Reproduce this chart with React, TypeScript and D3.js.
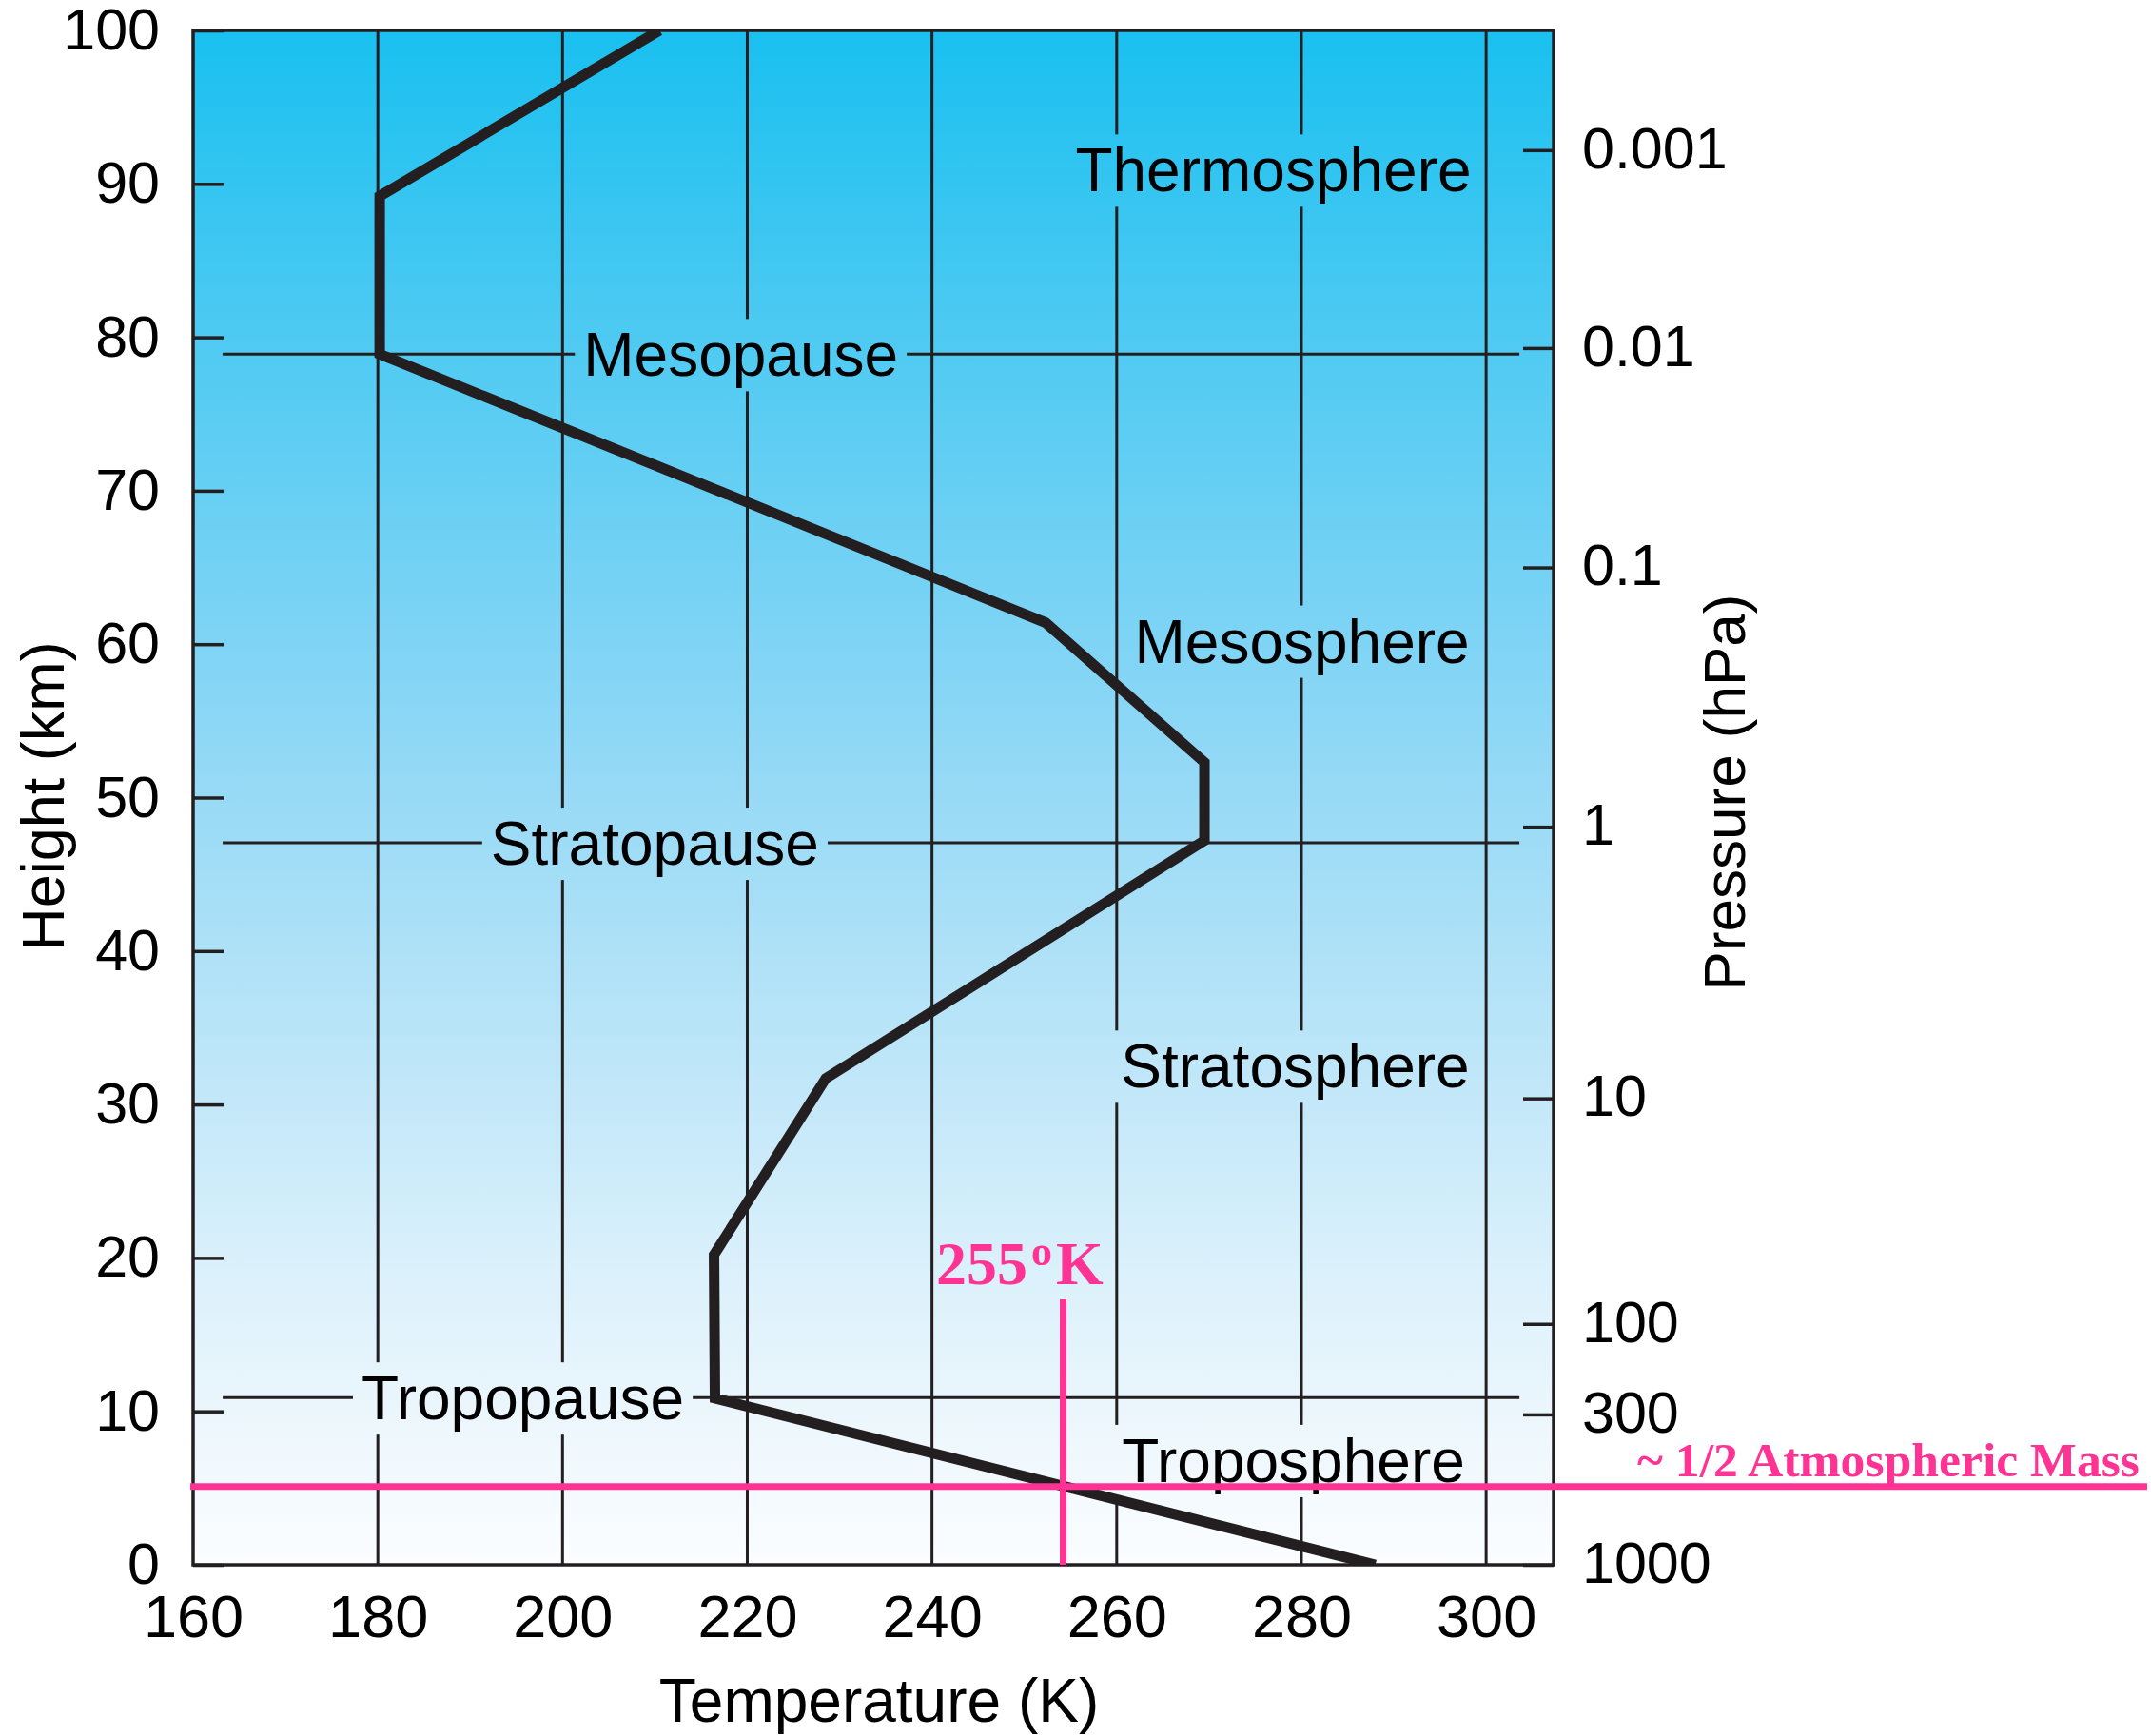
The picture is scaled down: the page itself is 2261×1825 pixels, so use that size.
import * as d3 from 'd3';
import { useEffect, useRef } from 'react';

// temperature profile of the standard atmosphere
const profileHeightsKm = [0, 10.85, 20.2, 31.7, 47.2, 52.3, 61.4, 78.9, 89.2, 100];
const profileTemperaturesK = [288, 216.5, 216.4, 228.5, 269.5, 269.5, 252.3, 180.2, 180.2, 210.5];

const temperatureTicks = [160, 180, 200, 220, 240, 260, 280, 300];
const gridTemperatures = [180, 200, 220, 240, 260, 280, 300];
const heightTicks = [0, 10, 20, 30, 40, 50, 60, 70, 80, 90, 100];

const pressureTicks = [1000, 300, 100, 10, 1, 0.1, 0.01, 0.001];
const pressureHeightsKm = [0, 9.8, 15.7, 30.4, 48.1, 65.0, 79.3, 92.2];

const pauseNames = ['Mesopause', 'Stratopause', 'Tropopause'];
const pauseHeightsKm = [78.9, 47.05, 10.9];
const pauseLabelTemps = [219.3, 210.0, 195.7];

const layerNames = ['Thermosphere', 'Mesosphere', 'Stratosphere', 'Troposphere'];
const layerLabelTemps = [298.4, 298.2, 298.2, 297.7];
const layerLabelHeights = [89.5, 58.8, 31.1, 5.4];

const effectiveTempK = 254.2;
const effectiveLineTopKm = 17.3;
const halfMassHeightKm = 5.1;

const WIDTH = 2261;
const HEIGHT = 1825;
const plot = { left: 203, right: 1633, top: 32, bottom: 1645 };

const INK = '#231f20';
const PINK = '#ff3394';
const SANS = '"Liberation Sans", Arial, Helvetica, sans-serif';
const SERIF = '"Liberation Serif", "Times New Roman", serif';

type Sel = d3.Selection<SVGGElement, unknown, null, undefined>;

export default function App() {
  const svgRef = useRef<SVGSVGElement>(null);

  useEffect(() => {
    if (!svgRef.current) return;
    const svg = d3.select(svgRef.current);
    svg.selectAll('*').remove();

    const x = d3.scaleLinear().domain([160, 307.3]).range([plot.left, plot.right]);
    const y = d3.scaleLinear().domain([0, 100]).range([plot.bottom, plot.top]);
    const pressureY = d3
      .scaleLog()
      .domain(pressureTicks)
      .range(pressureHeightsKm.map((h) => y(h)));

    const defs = svg.append('defs');
    const grad = defs
      .append('linearGradient')
      .attr('id', 'sky')
      .attr('gradientUnits', 'userSpaceOnUse')
      .attr('x1', 0)
      .attr('x2', 0)
      .attr('y1', plot.top)
      .attr('y2', plot.bottom);
    const stops: [number, string][] = [
      [0, '#19c0f0'],
      [0.2, '#4ecaf2'],
      [0.4, '#7fd4f5'],
      [0.5, '#98daf6'],
      [0.6, '#aee1f7'],
      [0.7, '#c4e8f9'],
      [0.8, '#d9f0fb'],
      [0.9, '#ebf6fc'],
      [1, '#fbfdff']
    ];
    stops.forEach(([o, c]) => grad.append('stop').attr('offset', o).attr('stop-color', c));

    defs
      .append('clipPath')
      .attr('id', 'plotClip')
      .append('rect')
      .attr('x', plot.left)
      .attr('y', plot.top)
      .attr('width', plot.right - plot.left)
      .attr('height', plot.bottom - plot.top);

    // background
    svg
      .append('rect')
      .attr('x', plot.left)
      .attr('y', plot.top)
      .attr('width', plot.right - plot.left)
      .attr('height', plot.bottom - plot.top)
      .attr('fill', 'url(#sky)');

    // vertical grid lines
    svg
      .append('g')
      .selectAll('line')
      .data(gridTemperatures)
      .enter()
      .append('line')
      .attr('x1', (d) => x(d))
      .attr('x2', (d) => x(d))
      .attr('y1', plot.top)
      .attr('y2', plot.bottom)
      .attr('stroke', INK)
      .attr('stroke-width', 3);

    // pause lines
    svg
      .append('g')
      .selectAll('line')
      .data(pauseHeightsKm)
      .enter()
      .append('line')
      .attr('x1', x(163.2))
      .attr('x2', x(303.6))
      .attr('y1', (d) => y(d))
      .attr('y2', (d) => y(d))
      .attr('stroke', INK)
      .attr('stroke-width', 3);

    // axes
    const leftAxis = svg
      .append('g')
      .attr('transform', `translate(${plot.left},0)`)
      .call(d3.axisLeft(y).tickValues(heightTicks).tickFormat(d3.format('d')).tickSize(-32).tickPadding(35));
    styleAxis(leftAxis);

    const bottomAxis = svg
      .append('g')
      .attr('transform', `translate(0,${plot.bottom})`)
      .call(d3.axisBottom(x).tickValues(temperatureTicks).tickFormat(d3.format('d')).tickSize(0).tickPadding(31));
    styleAxis(bottomAxis);
    bottomAxis.attr('font-size', 63);

    const rightAxis = svg
      .append('g')
      .attr('transform', `translate(${plot.right},0)`)
      .call(
        d3
          .axisRight(pressureY)
          .tickValues(pressureTicks)
          .tickFormat((d) => String(d))
          .tickSize(-32)
          .tickPadding(30)
      );
    styleAxis(rightAxis);
    rightAxis.selectAll('text').attr('dy', '0.3em');

    // labels with knockout boxes
    const labels = svg.append('g');
    pauseNames.forEach((name, i) => {
      addKnockoutLabel(labels, name, x(pauseLabelTemps[i]), y(pauseHeightsKm[i]) + 23, 'middle');
    });
    layerNames.forEach((name, i) => {
      addKnockoutLabel(labels, name, x(layerLabelTemps[i]), y(layerLabelHeights[i]), 'end');
    });

    // temperature profile
    const line = d3
      .line<number>()
      .x((d) => x(d))
      .y((_, i) => y(profileHeightsKm[i]));
    svg
      .append('path')
      .attr('d', line(profileTemperaturesK))
      .attr('clip-path', 'url(#plotClip)')
      .attr('fill', 'none')
      .attr('stroke', INK)
      .attr('stroke-width', 11)
      .attr('stroke-linejoin', 'miter');

    // frame
    svg
      .append('rect')
      .attr('x', plot.left)
      .attr('y', plot.top)
      .attr('width', plot.right - plot.left)
      .attr('height', plot.bottom - plot.top)
      .attr('fill', 'none')
      .attr('stroke', INK)
      .attr('stroke-width', 3.5);

    // axis titles
    svg
      .append('text')
      .attr('transform', 'translate(67,837) rotate(-90)')
      .attr('text-anchor', 'middle')
      .attr('font-family', SANS)
      .attr('font-size', 63)
      .text('Height (km)');
    svg
      .append('text')
      .attr('transform', 'translate(1834,833) rotate(-90)')
      .attr('text-anchor', 'middle')
      .attr('font-family', SANS)
      .attr('font-size', 62)
      .text('Pressure (hPa)');
    svg
      .append('text')
      .attr('x', 924)
      .attr('y', 1810)
      .attr('text-anchor', 'middle')
      .attr('font-family', SANS)
      .attr('font-size', 64)
      .text('Temperature (K)');

    // pink annotations
    svg
      .append('line')
      .attr('x1', x(effectiveTempK))
      .attr('x2', x(effectiveTempK))
      .attr('y1', y(effectiveLineTopKm))
      .attr('y2', y(0))
      .attr('stroke', PINK)
      .attr('stroke-width', 7);
    svg
      .append('line')
      .attr('x1', plot.left - 3)
      .attr('x2', WIDTH - 4)
      .attr('y1', y(halfMassHeightKm))
      .attr('y2', y(halfMassHeightKm))
      .attr('stroke', PINK)
      .attr('stroke-width', 7);

    const tempLabel = svg
      .append('text')
      .attr('x', 1072)
      .attr('y', 1350)
      .attr('text-anchor', 'middle')
      .attr('font-family', SERIF)
      .attr('font-weight', 'bold')
      .attr('font-size', 64)
      .attr('fill', PINK);
    tempLabel.append('tspan').text('255');
    tempLabel.append('tspan').attr('dx', 4).attr('dy', -20).attr('font-size', 44).text('o');
    tempLabel.append('tspan').attr('dx', 4).attr('dy', 20).text('K');

    svg
      .append('text')
      .attr('x', 2249)
      .attr('y', 1552)
      .attr('text-anchor', 'end')
      .attr('font-family', SERIF)
      .attr('font-weight', 'bold')
      .attr('font-size', 50)
      .attr('fill', PINK)
      .attr('textLength', 528)
      .attr('lengthAdjust', 'spacingAndGlyphs')
      .text('~ 1/2 Atmospheric Mass');
  }, []);

  const styleAxis = (g: Sel) => {
    g.select('.domain').remove();
    g.attr('font-family', SANS).attr('font-size', 61);
    g.selectAll('.tick line').attr('stroke', INK).attr('stroke-width', 3.5);
    g.selectAll('.tick text').attr('fill', '#000');
  };

  const addKnockoutLabel = (g: Sel, text: string, tx: number, ty: number, anchor: string) => {
    const t = g
      .append('text')
      .attr('x', tx)
      .attr('y', ty)
      .attr('text-anchor', anchor)
      .attr('font-family', SANS)
      .attr('font-size', 64)
      .attr('fill', '#000')
      .text(text);
    const b = (t.node() as SVGTextElement).getBBox();
    g.insert('rect', () => t.node())
      .attr('x', b.x - 9)
      .attr('y', b.y - 2)
      .attr('width', b.width + 18)
      .attr('height', b.height + 4)
      .attr('fill', 'url(#sky)');
  };

  return (
    <div style={{ position: 'absolute', left: 0, top: 0 }}>
      <svg ref={svgRef} width={WIDTH} height={HEIGHT} style={{ display: 'block', background: '#fff' }} />
    </div>
  );
}
